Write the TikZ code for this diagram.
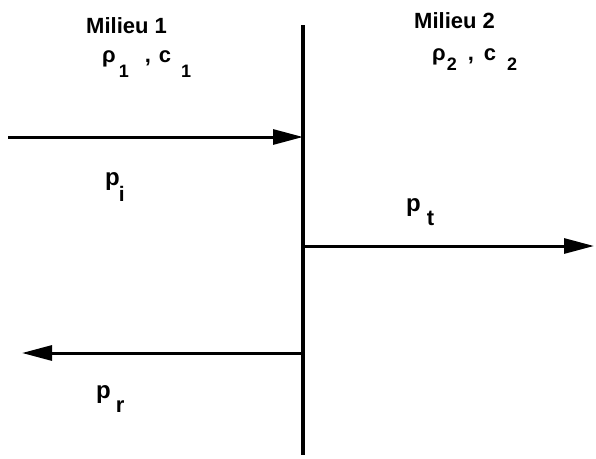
\documentclass[tikz,border=0pt]{standalone}
\usepackage{fontspec}
\setmainfont{Liberation Sans}
\usetikzlibrary{arrows.meta}
\newcommand{\sbx}[3]{\raisebox{-#1}{\bfseries\fontsize{#2}{#2}\selectfont #3}}
\begin{document}
\begin{tikzpicture}[x=1pt,y=-1pt,
  lbl/.style={font=\bfseries\fontsize{22}{24}\selectfont, inner sep=0pt, anchor=base west},
  plbl/.style={lbl, font=\bfseries\fontsize{24}{26}\selectfont},
  wave/.style={line width=3pt, -{Triangle[length=30pt,width=15pt]}},
  wall/.style={line width=3.5pt}]
\useasboundingbox (0,0) rectangle (596,458);
\coordinate (wt) at (303,25);
\coordinate (wb) at (303,455);
\draw[wall] (wt) -- (wb);
\coordinate (is) at (8,137);
\coordinate (ie) at (303,137);
\coordinate (ts) at (303,246);
\coordinate (te) at (594,246);
\coordinate (rs) at (303,353);
\coordinate (re) at (22,353);
\draw[wave] (is) -- (ie);
\draw[wave] (ts) -- (te);
\draw[wave] (rs) -- (re);
\node[lbl] (m1) at (86,33) {Milieu 1};
\node[lbl] (r1) at (102,62) {ρ\hspace{3pt}\sbx{15pt}{18}{1}\hspace{16pt},\hspace{8pt}c\hspace{10pt}\sbx{15pt}{18}{1}};
\node[lbl] (m2) at (414,28) {Milieu 2};
\node[lbl] (r2) at (432,60) {ρ\hspace{1pt}\sbx{10pt}{18}{2}\hspace{11pt},\hspace{10pt}c\hspace{11pt}\sbx{10pt}{18}{2}};
\node[plbl] (pi) at (105,185) {p\hspace{-1pt}\sbx{16pt}{21}{i}};
\node[plbl] (pt) at (406,211) {p\hspace{6pt}\sbx{14pt}{22}{t}};
\node[plbl] (pr) at (96,398) {p\hspace{5pt}\sbx{14pt}{22}{r}};
\end{tikzpicture}
\end{document}
